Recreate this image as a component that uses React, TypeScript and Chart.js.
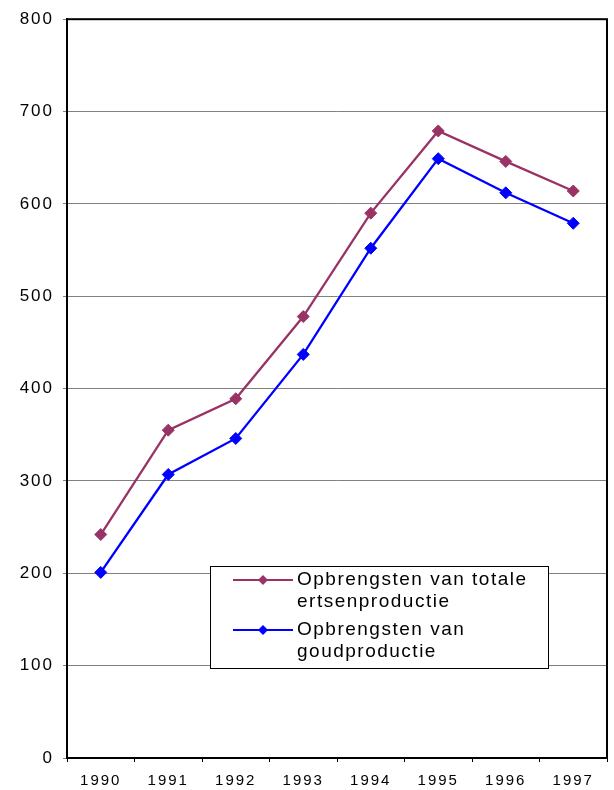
import React, { useEffect, useRef } from "react";
import { Chart, registerables } from "chart.js";

Chart.register(...registerables);

const years = ["1990", "1991", "1992", "1993", "1994", "1995", "1996", "1997"];
const totaleErts = [242, 355, 389, 478, 590, 679, 646, 614];
const goud = [201, 307, 346, 437, 552, 649, 612, 579];
const seriesLabels = [
  ["Opbrengsten van totale", "ertsenproductie"],
  ["Opbrengsten van", "goudproductie"],
];
const seriesColors = ["#993366", "#0000FF"];

const spacingPlugin = {
  id: "spacing",
  beforeDraw(chart: any) {
    (chart.ctx as any).letterSpacing = "2px";
  },
};

const framePlugin = {
  id: "frame",
  afterDraw(chart: any) {
    const { ctx, chartArea } = chart;
    ctx.save();
    (ctx as any).letterSpacing = "0px";
    ctx.strokeStyle = "#000";
    ctx.lineWidth = 2;
    ctx.strokeRect(chartArea.left, chartArea.top, chartArea.right - chartArea.left, chartArea.bottom - chartArea.top);

    // legend box
    const bx = 210, by = 566, bw = 338, bh = 102;
    ctx.fillStyle = "#fff";
    ctx.fillRect(bx, by, bw, bh);
    ctx.lineWidth = 1;
    ctx.strokeStyle = "#000";
    ctx.strokeRect(bx + 0.5, by + 0.5, bw, bh);

    const rows = [580, 630];
    rows.forEach((ry, i) => {
      ctx.strokeStyle = seriesColors[i];
      ctx.fillStyle = seriesColors[i];
      ctx.lineWidth = 2;
      ctx.beginPath();
      ctx.moveTo(233, ry);
      ctx.lineTo(293, ry);
      ctx.stroke();
      ctx.beginPath();
      ctx.moveTo(263, ry - 5);
      ctx.lineTo(268, ry);
      ctx.lineTo(263, ry + 5);
      ctx.lineTo(258, ry);
      ctx.closePath();
      ctx.fill();
      ctx.fillStyle = "#000";
      (ctx as any).letterSpacing = "1.5px";
      ctx.font = "19px 'Liberation Sans', Arial, sans-serif";
      ctx.textBaseline = "middle";
      ctx.textAlign = "left";
      ctx.fillText(seriesLabels[i][0], 297, ry);
      ctx.fillText(seriesLabels[i][1], 297, ry + 22);
    });
    ctx.restore();
  },
};

export default function App() {
  const ref = useRef<HTMLCanvasElement>(null);
  useEffect(() => {
    if (!ref.current) return;
    const chart = new Chart(ref.current, {
      type: "line",
      data: {
        labels: years,
        datasets: [
          {
            label: seriesLabels[0].join(" "),
            data: totaleErts,
            borderColor: seriesColors[0],
            backgroundColor: seriesColors[0],
            borderWidth: 2.3,
            pointStyle: "rectRot",
            pointRadius: 6,
            pointBorderWidth: 1,
          },
          {
            label: seriesLabels[1].join(" "),
            data: goud,
            borderColor: seriesColors[1],
            backgroundColor: seriesColors[1],
            borderWidth: 2.3,
            pointStyle: "rectRot",
            pointRadius: 6,
            pointBorderWidth: 1,
          },
        ],
      },
      options: {
        animation: false,
        responsive: false,
        layout: { padding: { top: 18, right: 6, left: 0, bottom: 0 } },
        plugins: { legend: { display: false }, tooltip: { enabled: false } },
        scales: {
          x: {
            offset: true,
            grid: {
              offset: true,
              drawOnChartArea: false,
              drawTicks: true,
              tickLength: 4,
              color: "#000",
            },
            border: { display: true, color: "#000", width: 2 },
            ticks: {
              color: "#000",
              padding: 10,
              maxRotation: 0,
              font: { family: "'Liberation Sans', Arial, sans-serif", size: 15 },
            },
            afterFit(scale: any) {
              scale.height = 32;
            },
          },
          y: {
            min: 0,
            max: 800,
            ticks: {
              stepSize: 100,
              color: "#000",
              padding: 9,
              font: { family: "'Liberation Sans', Arial, sans-serif", size: 17 },
            },
            grid: { color: "#808080", lineWidth: 1, tickLength: 4 },
            border: { display: true, color: "#000", width: 2 },
            afterFit(scale: any) {
              scale.width = 67;
            },
          },
        },
      },
      plugins: [spacingPlugin, framePlugin],
    });
    return () => chart.destroy();
  }, []);
  return (
    <div style={{ position: "fixed", left: 0, top: 0, width: 614, height: 790, background: "#fff" }}>
      <canvas ref={ref} width={614} height={790} style={{ width: 614, height: 790 }} />
    </div>
  );
}
